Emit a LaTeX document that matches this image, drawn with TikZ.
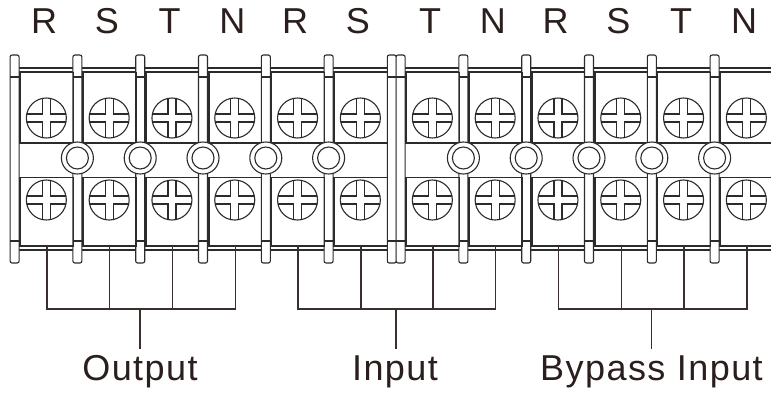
\documentclass[tikz,border=0pt]{standalone}
\usepackage{fontspec}
\setmainfont{Liberation Sans}
\newfontfamily\lblfont[LetterSpace=4]{Liberation Sans}
\definecolor{ink}{HTML}{2B2B2B}
\definecolor{txtc}{HTML}{2A1F1C}
\definecolor{wirec}{HTML}{3A2F2C}
\tikzset{
  part/.style={draw=ink, line width=1.1pt},
  tbox/.style={part, rectangle, inner sep=0pt, minimum width=52.7pt, anchor=north west},
  shadowedge/.style={draw=ink, line width=2.2pt},
  wirel/.style={draw=wirec, line width=1.4pt},
  lbl/.style={text=txtc, inner sep=0pt, anchor=base, font=\lblfont\fontsize{36}{36}\selectfont},
  screw/.pic={
    \draw[part] (0,0) circle[radius=20pt];
    \draw[part] (4,19.6) -- (4,4) -- (19.6,4)
                (-4,19.6) -- (-4,4) -- (-19.6,4)
                (4,-19.6) -- (4,-4) -- (19.6,-4)
                (-4,-19.6) -- (-4,-4) -- (-19.6,-4);
  },
  washer/.pic={
    \draw[part, fill=white] (0,0) circle[radius=16pt];
    \draw[part] (0,0) circle[radius=11pt];
  }
}
\begin{document}
\begin{tikzpicture}[x=1pt, y=-1pt]
\useasboundingbox (0,0) rectangle (771,392);
\begin{scope}
\clip (0,0) rectangle (771,392);
% horizontal bars
\draw[part] (14.6,68) -- (790,68) (14.6,72) -- (790,72);
\draw[part] (14.6,246.5) -- (790,246.5) (14.6,250) -- (790,250);
% posts
\foreach \c in {14.6,77.4,140.2,203,265.8,328.6,391.8,400.6,463.4,526.2,589,651.8,714.6,777.4}{
  \draw[part, fill=white, rounded corners=2pt] (\c-4.5,55) rectangle (\c+4.5,263);
  \draw[part] (\c-4.5,77) -- (\c+4.5,77) (\c-4.5,241) -- (\c+4.5,241);
}
% terminals
\foreach \t/\l [count=\i] in {46/R,108.8/S,171.6/T,234.4/N,297.2/R,360/S,432/T,494.8/N,557.6/R,620.4/S,683.2/T,746/N}{
  \node[tbox, minimum height=70pt] (top\i) at (\t-26,72) {};
  \node[tbox, minimum height=68pt] (bot\i) at (\t-26,177) {};
  \draw[shadowedge] (top\i.north west) -- (top\i.south west) -- (top\i.south east);
  \draw[shadowedge] (bot\i.north west) -- (bot\i.south west) -- (bot\i.south east);
  \pic at (\t+0.35,118) {screw};
  \pic at (\t+0.35,200) {screw};
  \node[lbl] (name\i) at (\t-2,33) {\l};
}
% washers
\foreach \c in {77.4,140.2,203,265.8,328.6,463.4,526.2,589,651.8,714.6}{
  \pic at (\c,158) {washer};
}
\end{scope}
% wiring
\coordinate (j1) at (140,309);   \coordinate (s1) at (140,349);
\coordinate (j2) at (396,309);   \coordinate (s2) at (396,349);
\coordinate (j3) at (651.5,309); \coordinate (s3) at (651.5,349);
\draw[wirel] (bot1.south) -- (bot1.south |- j1) -- (bot4.south |- j1) -- (bot4.south);
\draw[wirel] (bot2.south) -- (bot2.south |- j1);
\draw[wirel] (bot3.south) -- (bot3.south |- j1);
\draw[wirel] (j1) -- (s1);
\draw[wirel] (bot5.south) -- (bot5.south |- j2) -- (bot8.south |- j2) -- (bot8.south);
\draw[wirel] (bot6.south) -- (bot6.south |- j2);
\draw[wirel] (bot7.south) -- (bot7.south |- j2);
\draw[wirel] (j2) -- (s2);
\draw[wirel] (bot9.south) -- (bot9.south |- j3) -- (bot12.south |- j3) -- (bot12.south);
\draw[wirel] (bot10.south) -- (bot10.south |- j3);
\draw[wirel] (bot11.south) -- (bot11.south |- j3);
\draw[wirel] (j3) -- (s3);
% group labels
\node[lbl] (outlbl) at (140,380.5) {Output};
\node[lbl] (inlbl) at (395,380.5) {Input};
\node[lbl] (bylbl) at (651.5,380.5) {Bypass Input};
\end{tikzpicture}
\end{document}
